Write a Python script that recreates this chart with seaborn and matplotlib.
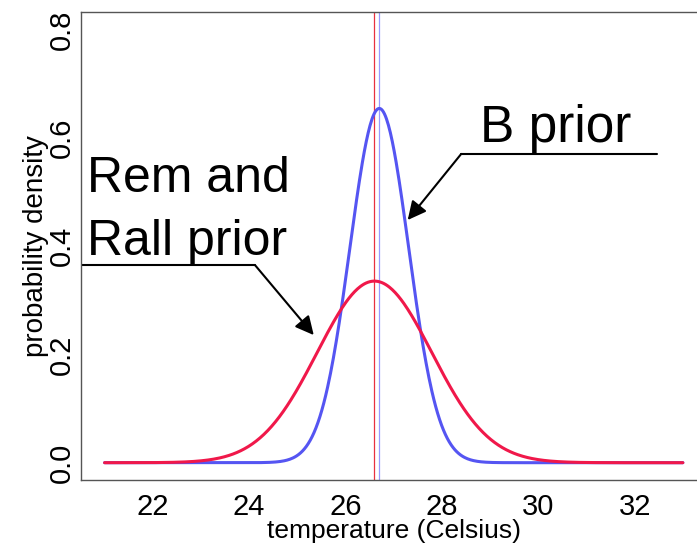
import numpy as np
import pandas as pd
import matplotlib
matplotlib.use("Agg")
import matplotlib.pyplot as plt
import seaborn as sns

# ---- data ----
priors = ["B prior", "Rem and Rall prior"]
prior_means = [26.70, 26.60]      # centre of each prior (Celsius)
prior_sds = [0.61, 1.19]          # spread of each prior (Celsius)
x_range = [21.0, 33.0]
x_ticks = [22, 24, 26, 28, 30, 32]
y_ticks = [0.0, 0.2, 0.4, 0.6, 0.8]
curve_colors = ["#5555f2", "#f0184a"]
vline_colors = ["#9a9aff", "#e8303f"]

sns.set_style("white")
plt.rcParams["font.family"] = ["Liberation Sans", "DejaVu Sans"]
plt.rcParams["text.color"] = "black"

xs = np.linspace(x_range[0], x_range[1], 600)
frames = []
for name, m, s in zip(priors, prior_means, prior_sds):
    dens = np.exp(-0.5 * ((xs - m) / s) ** 2) / (s * np.sqrt(2 * np.pi))
    frames.append(pd.DataFrame({"temperature": xs, "density": dens, "prior": name}))
df = pd.concat(frames, ignore_index=True)

fig = plt.figure(figsize=(6.97, 5.44), dpi=100)
ax = fig.add_axes([0.1169, 0.1176, 0.896, 0.8603])

sns.lineplot(data=df, x="temperature", y="density", hue="prior",
             palette=dict(zip(priors, curve_colors)), linewidth=2.2,
             legend=False, ax=ax)

for m, c in zip(prior_means, vline_colors):
    ax.axvline(m, color=c, linewidth=0.9, zorder=1)

ax.set_xlim(20.52, 33.48)
ax.set_ylim(-0.032, 0.832)
ax.set_xticks(x_ticks)
ax.set_xticklabels([str(t) for t in x_ticks])
ax.set_yticks(y_ticks)
ax.set_yticklabels([f"{t:.1f}" for t in y_ticks], rotation=90, va="center")

for sp in ["top", "bottom", "left"]:
    ax.spines[sp].set_color("#555555")
    ax.spines[sp].set_linewidth(1.0)
ax.spines["right"].set_visible(False)

ax.tick_params(axis="both", which="both", length=3, width=0.8, color="#555555",
               labelsize=21, labelcolor="black")
ax.tick_params(axis="x", pad=6)
ax.tick_params(axis="y", pad=1)

ax.set_xlabel("temperature (Celsius)", fontsize=19, color="black")
ax.set_ylabel("probability density", fontsize=20, color="black")
ax.xaxis.set_label_coords(0.5, -0.0833)
ax.yaxis.set_label_coords(-0.052, 0.5)

# annotations
ax.text(28.78, 0.5927, "B prior", fontsize=37, va="baseline", ha="left", color="black")
ax.plot([28.40, 32.46], [0.570, 0.570], color="black", linewidth=1.5)
ax.annotate("", xy=(27.29, 0.448), xytext=(28.40, 0.570),
            arrowprops=dict(arrowstyle="-|>", color="black", lw=1.5,
                            mutation_scale=28, shrinkA=0, shrinkB=0))

ax.text(20.63, 0.500, "Rem and", fontsize=36, va="baseline", ha="left", color="black")
ax.text(20.63, 0.383, "Rall prior", fontsize=36, va="baseline", ha="left", color="black")
ax.plot([20.52, 24.12], [0.3649, 0.3649], color="black", linewidth=1.5)
ax.annotate("", xy=(25.34, 0.2356), xytext=(24.12, 0.3649),
            arrowprops=dict(arrowstyle="-|>", color="black", lw=1.5,
                            mutation_scale=28, shrinkA=0, shrinkB=0))

fig.savefig("out.png", dpi=100)
